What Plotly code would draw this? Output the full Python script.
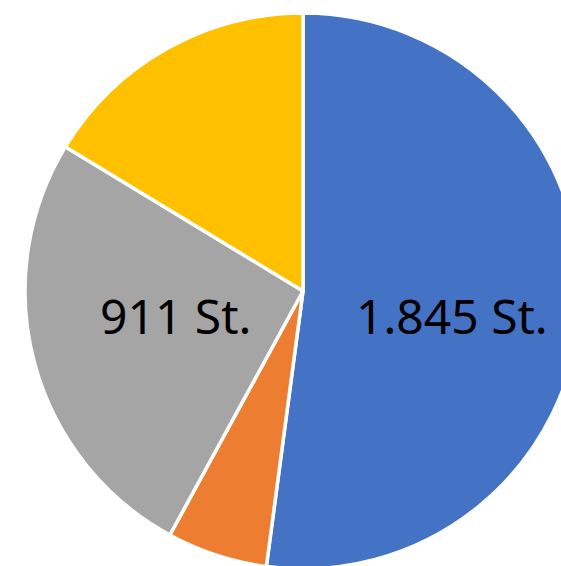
import plotly.graph_objects as go

# Datos del gráfico (Stück)
categorias = ['A', 'B', 'C', 'D']
valores = [1845, 207, 911, 578]
etiquetas = ['1.845 St.', '', '911 St.', '']
colores = ['#4472C4', '#ED7D31', '#A5A5A5', '#FFC000']

W, H = 600, 600
cx, cy, r = 303, 291, 278

fig = go.Figure(go.Pie(
    labels=categorias,
    values=valores,
    textinfo='none',
    sort=False,
    direction='clockwise',
    rotation=0,
    marker=dict(colors=colores, line=dict(color='white', width=3.5)),
    domain=dict(x=[(cx - r) / W, (cx + r) / W], y=[1 - (cy + r) / H, 1 - (cy - r) / H]),
    hoverinfo='none',
))

# Etiquetas de datos (posición como en el original)
pos_etiquetas = {0: (452, 315), 2: (175, 315)}
for i, (px_, py_) in pos_etiquetas.items():
    fig.add_annotation(
        text=etiquetas[i], x=px_ / W, y=1 - py_ / H, xref='paper', yref='paper',
        showarrow=False, xanchor='center', yanchor='middle',
        font=dict(family='Noto Sans', size=48, color='black'),
    )

fig.update_layout(
    width=W,
    height=H,
    margin=dict(l=0, r=0, t=0, b=0),
    showlegend=False,
    paper_bgcolor='white',
)

fig.write_html("out.html", config={'displayModeBar': False},
               post_script="document.body.style.margin='0';document.body.style.overflow='hidden';")
